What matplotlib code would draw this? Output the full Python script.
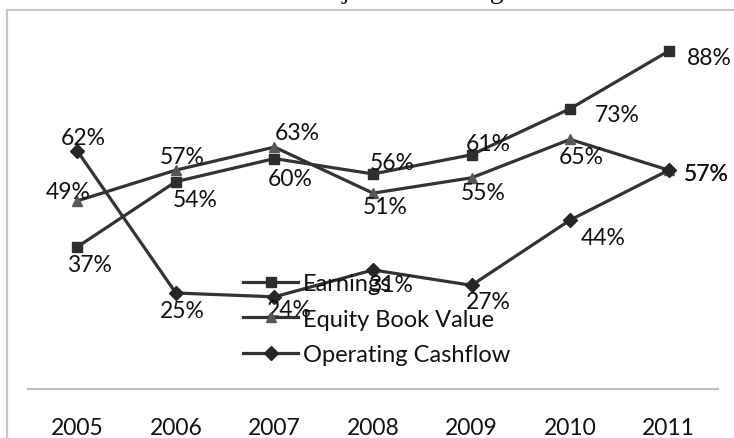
import matplotlib
matplotlib.use("Agg")
import matplotlib.pyplot as plt
from matplotlib.patches import Rectangle

years = ["2005", "2006", "2007", "2008", "2009", "2010", "2011"]
earnings = [37, 54, 60, 56, 61, 73, 88]
equity_book = [49, 57, 63, 51, 55, 65, 57]
op_cashflow = [62, 25, 24, 31, 27, 44, 57]

# label offsets in pixels (dx, dy with y pointing down)
earn_off = [(12, 18), (19, 18), (16, 20), (19, -11), (17, -11), (47, 6), (41, 6)]
eq_off = [(-9, -9), (6, -14), (23, -15), (12, 13), (12, 15), (11, 17), (38, 3)]
cf_off = [(6, -13), (6, 17), (15, 13), (17, 15), (17, 16), (33, 17), (38, 3)]

W, H = 734, 439
plt.rcParams["font.family"] = ["Lato", "DejaVu Sans"]

fig = plt.figure(figsize=(W / 100, H / 100), dpi=100)
ax = fig.add_axes([28 / W, (H - 390) / H, 690 / W, 384 / H])

x = list(range(len(years)))
series = [
    (earnings, "Earnings", "s", 7.2, "#2e2e2e", earn_off),
    (equity_book, "Equity Book Value", "^", 6.8, "#575757", eq_off),
    (op_cashflow, "Operating Cashflow", "D", 7.6, "#262626", cf_off),
]
for vals, name, mk, ms, mc, offs in series:
    ax.plot(x, vals, color="#333333", lw=2.3, marker=mk, markersize=ms,
            markerfacecolor=mc, markeredgecolor=mc, label=name, zorder=3)
    for xi, v, (dx, dy) in zip(x, vals, offs):
        ax.annotate(f"{v}%", (xi, v), xytext=(dx, -dy), textcoords="offset pixels",
                    ha="center", va="center", fontsize=16.5, color="#111111", zorder=5)

ax.set_xlim(-0.5, 6.5)
ax.set_ylim(0, 100)
ax.set_xticks(x)
ax.set_xticklabels(years)
ax.set_yticks([])
ax.tick_params(axis="x", length=0, pad=20, labelsize=16.5, labelcolor="#111111")
for s in ["left", "right", "top"]:
    ax.spines[s].set_visible(False)
ax.spines["bottom"].set_color("#c0c0c0")
ax.spines["bottom"].set_linewidth(1.6)
ax.patch.set_alpha(0)

leg = ax.legend(loc="upper left", bbox_to_anchor=(243 / W, 1 - 274 / H),
                bbox_transform=fig.transFigure, frameon=False, fontsize=17,
                handlelength=2.35, handletextpad=0.2, labelspacing=0.62,
                borderpad=0, borderaxespad=0)
for t in leg.get_texts():
    t.set_color("#111111")

# outer chart border (left and top edges)
fig.patches.append(Rectangle((7 / W, -0.1), 1.2, 1 - 11 / H + 0.1,
                             transform=fig.transFigure, fill=False,
                             edgecolor="#c8c8c8", lw=1.6))

fig.text(173 / W, 1 + 2 / H, "Cumulative Adjusted Earnings", ha="left",
         va="baseline", fontsize=20, family="Liberation Serif", color="#111111")

fig.savefig("out.png", dpi=100)
